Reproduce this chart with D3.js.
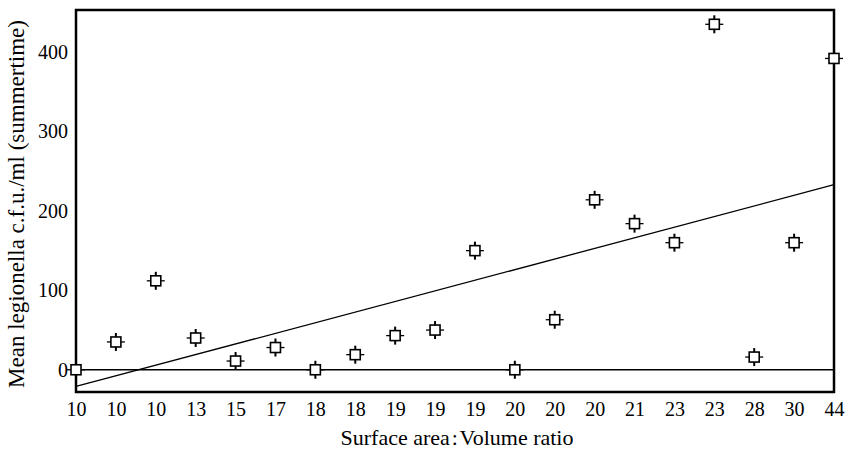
<!DOCTYPE html>
<html>
<head>
    <script src="https://d3js.org/d3.v7.min.js"></script>
    <style>
        body { margin: 0; background: #fff; }
        svg text { font-family: "Liberation Serif", "Times New Roman", Times, "DejaVu Serif", serif !important; fill: #000; }
    </style>
</head>
<body>
<div id="chart"></div>
<script>
    // categories in plotting order (surface area : volume ratio)
    ratios = ["10", "10", "10", "13", "15", "17", "18", "18", "19", "19",
              "19", "20", "20", "20", "21", "23", "23", "28", "30", "44"];
    // mean legionella c.f.u./ml (summertime)
    counts = [0, 35, 112, 40, 11, 28, 0, 19, 43, 50,
              150, 0, 63, 214, 184, 160, 435, 16, 160, 392];
    yTicks = [0, 100, 200, 300, 400];
    // fitted line values at the first and last category
    trendEnds = [-21, 233];

    width = 849;
    height = 451;
    margin = { top: 10, right: 15, bottom: 59, left: 76 };
    plotW = width - margin.left - margin.right;
    plotH = height - margin.top - margin.bottom;

    svg = d3.select("#chart").append("svg")
        .attr("width", width)
        .attr("height", height);

    g = svg.append("g")
        .attr("transform", `translate(${margin.left},${margin.top})`);

    idx = d3.range(ratios.length);
    x = d3.scalePoint()
        .domain(idx)
        .range([0, plotW]);

    y = d3.scaleLinear()
        .domain([-28, 453])
        .range([plotH, 0]);

    // zero line
    g.append("line")
        .attr("x1", 0).attr("x2", plotW)
        .attr("y1", y(0)).attr("y2", y(0))
        .attr("stroke", "#000").attr("stroke-width", 1.3);

    // regression line
    g.append("line")
        .attr("x1", x(0)).attr("x2", x(idx.length - 1))
        .attr("y1", y(trendEnds[0])).attr("y2", y(trendEnds[1]))
        .attr("stroke", "#000").attr("stroke-width", 1.3);

    // frame
    g.append("rect")
        .attr("width", plotW).attr("height", plotH)
        .attr("fill", "none").attr("stroke", "#000").attr("stroke-width", 2.5);

    // x axis labels
    xAxis = g.append("g")
        .attr("transform", `translate(0,${plotH})`)
        .call(d3.axisBottom(x).tickSize(0).tickPadding(10).tickFormat(i => ratios[i]));
    xAxis.select(".domain").remove();
    xAxis.attr("font-family", null);
    xAxis.selectAll("text").attr("font-size", 20);

    // y axis labels
    yAxis = g.append("g")
        .call(d3.axisLeft(y).tickValues(yTicks).tickSize(0).tickPadding(8));
    yAxis.select(".domain").remove();
    yAxis.attr("font-family", null);
    yAxis.selectAll("text").attr("font-size", 20);

    // markers: open square with a cross through it
    pts = g.selectAll(".pt")
        .data(idx)
        .enter().append("g")
            .attr("class", "pt")
            .attr("transform", i => `translate(${x(i)},${y(counts[i])})`);
    pts.append("line").attr("x1", -9).attr("x2", 9)
        .attr("stroke", "#000").attr("stroke-width", 1.3);
    pts.append("line").attr("y1", -9).attr("y2", 9)
        .attr("stroke", "#000").attr("stroke-width", 2);
    pts.append("rect")
        .attr("x", -5).attr("y", -5).attr("width", 10).attr("height", 10)
        .attr("fill", "#fff").attr("stroke", "#000").attr("stroke-width", 1.6);

    // axis titles
    svg.append("text")
        .attr("x", margin.left + plotW / 2 + 2)
        .attr("y", 445)
        .attr("text-anchor", "middle")
        .attr("font-size", 22)
        .text("Surface area\u200a:\u200aVolume ratio");

    svg.append("text")
        .attr("transform", `translate(24,${margin.top + plotH / 2 + 3}) rotate(-90)`)
        .attr("text-anchor", "middle")
        .attr("font-size", 23)
        .text("Mean legionella c.f.u./ml (summertime)");
</script>
</body>
</html>
